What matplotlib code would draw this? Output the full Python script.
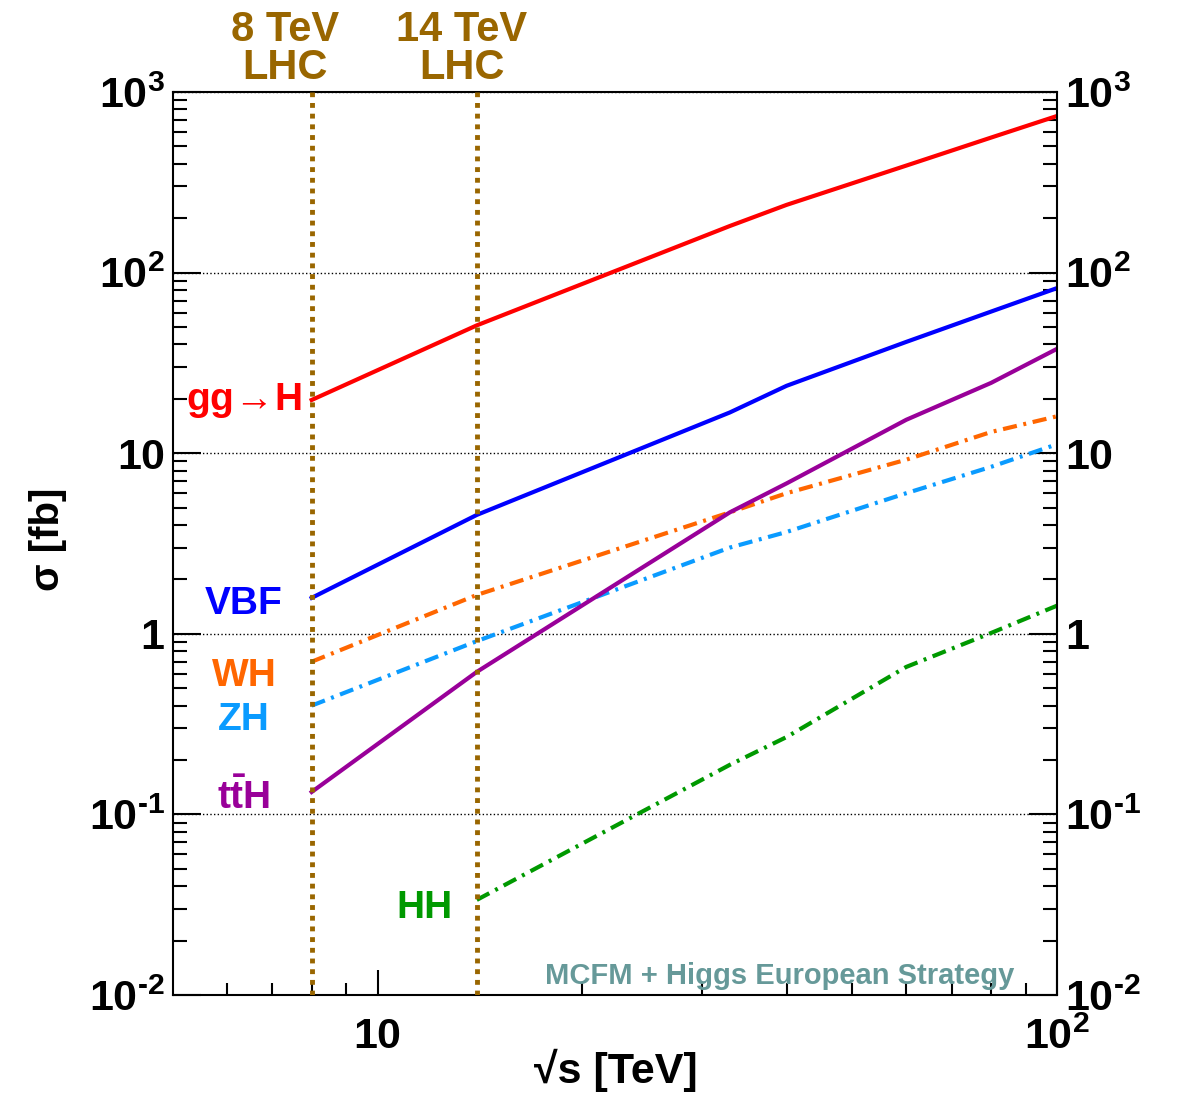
import numpy as np
import matplotlib
matplotlib.use('Agg')
import matplotlib.pyplot as plt
from matplotlib.ticker import FixedLocator, NullFormatter, FixedFormatter

plt.rcParams['font.family'] = ['Liberation Sans', 'DejaVu Sans']
plt.rcParams['font.weight'] = 'bold'
plt.rcParams['mathtext.fontset'] = 'custom'
plt.rcParams['mathtext.rm'] = 'Liberation Sans:bold'
plt.rcParams['mathtext.bf'] = 'Liberation Sans:bold'
plt.rcParams['mathtext.it'] = 'Liberation Sans:bold'
plt.rcParams['mathtext.default'] = 'rm'

# data
sqrt_s = [8, 14, 33, 40, 60, 80, 100]
ggH = [19.7, 51.0, 181, 237, 391, 559, 736]
VBF = [1.58, 4.55, 16.8, 23.6, 41.3, 60.8, 82]
WH = [0.70, 1.64, 4.7, 6.0, 9.2, 13.1, 16.0]
ZH = [0.40, 0.91, 3.0, 3.66, 6.0, 8.4, 11.2]
ttH = [0.133, 0.615, 4.7, 6.8, 15.3, 24.5, 37.8]
HH = [np.nan, 0.0336, 0.188, 0.268, 0.655, 1.01, 1.43]

lhc_energies = [8, 14]
lhc_labels = ['8 TeV\nLHC', '14 TeV\nLHC']
lhc_label_x = [7.31, 13.3]

y_ticks = [1e-2, 1e-1, 1, 10, 1e2, 1e3]
y_ticklabels = [r'$10^{\text{-}2}$', r'$10^{\text{-}1}$', '1', '10', '$10^{2}$', '$10^{3}$']
x_ticks = [10, 100]
x_ticklabels = ['10', '$10^{2}$']

brown = '#996600'
dashdot = (0, (3.4, 1.6, 0.7, 1.6))

fig = plt.figure(figsize=(11.84, 10.96), dpi=100)
ax = fig.add_axes([0.1461, 0.0922, 0.7466, 0.8239])
ax.set_xscale('log')
ax.set_yscale('log')
ax.set_xlim(5, 100)
ax.set_ylim(1e-2, 1e3)

# curves
ax.plot(sqrt_s, ggH, color='#ff0000', lw=3)
ax.plot(sqrt_s, VBF, color='#0000ff', lw=3)
ax.plot(sqrt_s, WH, color='#ff6600', lw=3, linestyle=dashdot)
ax.plot(sqrt_s, ZH, color='#0a9bff', lw=3, linestyle=dashdot)
ax.plot(sqrt_s, ttH, color='#990099', lw=3)
ax.plot(sqrt_s, HH, color='#009900', lw=3, linestyle=dashdot)

# LHC lines
for e, lx, lab in zip(lhc_energies, lhc_label_x, lhc_labels):
    ax.axvline(e, color=brown, lw=3.5, linestyle=(0, (1, 1.2)), zorder=3)
    ax.text(lx, 1.004, lab, transform=ax.get_xaxis_transform(), ha='center',
            va='bottom', color=brown, fontsize=30, fontweight='bold', linespacing=0.95)

# process labels
lab_kw = dict(ha='center', va='center', fontsize=28, fontweight='bold')
ax.text(6.36, 19.5, r'$\mathrm{gg}\!\rightarrow\!\mathrm{H}$', color='#ff0000', **lab_kw)
ax.text(6.36, 1.46, 'VBF', color='#0000ff', **lab_kw)
ax.text(6.36, 0.583, 'WH', color='#ff6600', **lab_kw)
ax.text(6.36, 0.333, 'ZH', color='#0a9bff', **lab_kw)
ax.text(6.36, 0.123, r'$\mathrm{t\bar{t}H}$', color='#990099', **lab_kw)
ax.text(11.71, 0.0303, 'HH', color='#009900', **lab_kw)

ax.text(0.952, 0.006, 'MCFM + Higgs European Strategy', transform=ax.transAxes,
        ha='right', va='bottom', color='#669999', fontsize=21, fontweight='bold')

# axes
ax.xaxis.set_major_locator(FixedLocator(x_ticks))
ax.xaxis.set_major_formatter(FixedFormatter(x_ticklabels))
ax.xaxis.set_minor_locator(FixedLocator([6, 7, 8, 9, 20, 30, 40, 50, 60, 70, 80, 90]))
ax.xaxis.set_minor_formatter(NullFormatter())
ax.yaxis.set_major_locator(FixedLocator(y_ticks))
ax.yaxis.set_major_formatter(FixedFormatter(y_ticklabels))
y_minor = [m * 10.0 ** d for d in range(-2, 3) for m in range(2, 10)]
ax.yaxis.set_minor_locator(FixedLocator(y_minor))
ax.yaxis.set_minor_formatter(NullFormatter())

ax.tick_params(axis='both', which='both', direction='in', width=1.5, top=False)
ax.tick_params(axis='y', which='both', left=True, right=True, labelright=True)
ax.tick_params(axis='y', which='major', length=20, labelsize=31, pad=6)
ax.tick_params(axis='y', which='minor', length=10)
ax.tick_params(axis='x', which='major', length=18, labelsize=31, pad=16)
ax.tick_params(axis='x', which='minor', length=9)
for lab in ax.get_yticklabels() + ax.get_xticklabels():
    lab.set_fontweight('bold')
for sp in ax.spines.values():
    sp.set_linewidth(1.5)

ax.grid(axis='y', which='major', linestyle=':', color='black', lw=1)

ax.set_ylabel('σ [fb]', fontsize=29, fontweight='bold')
ax.yaxis.set_label_coords(-0.12, 0.505)
fig.text(0.52, 0.023, '√s [TeV]', ha='center', va='center', fontsize=31, fontweight='bold')

plt.savefig('out.png', dpi=100)
